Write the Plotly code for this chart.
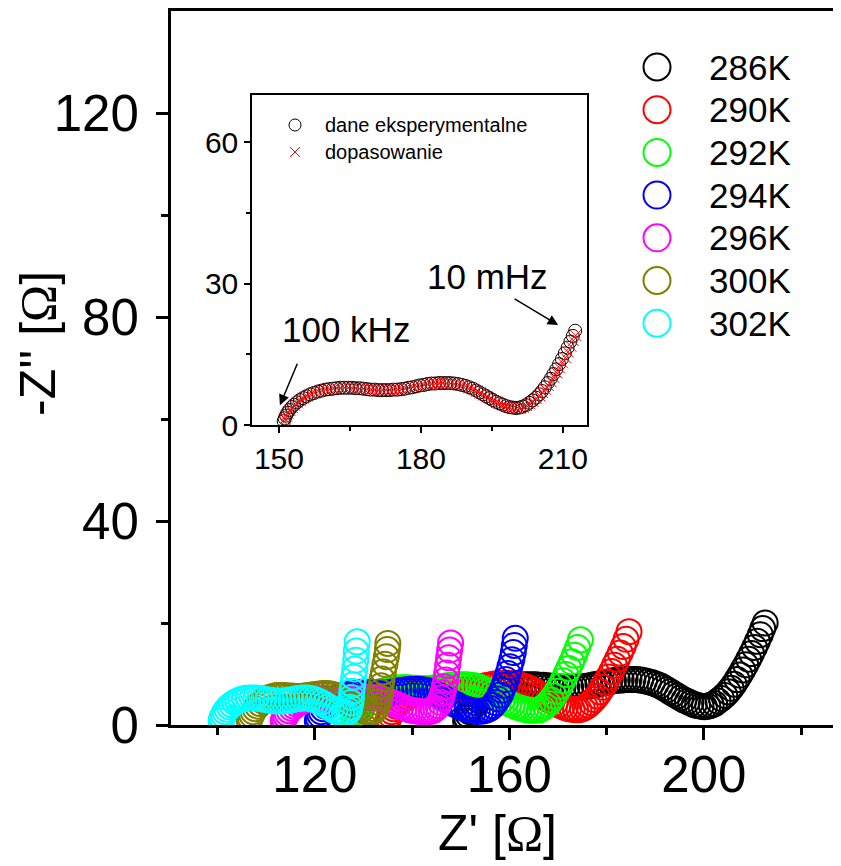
import plotly.graph_objects as go

# reference-pixel geometry (page body margin of 8 px is compensated)
OFF = 8
W, H = 841 - OFF, 866 - OFF
PL, PR, PT, PB = 171, 841, 11, 725          # plot area in reference pixels
L, R, T, B = PL - OFF, 0, PT - OFF, 866 - PB
PW, PH = PR - PL, PB - PT

def px_x(p):
    return (p - PL) / PW

def px_y(p):
    return (PB - p) / PH

FONT = "Liberation Sans, Arial, sans-serif"

temps = ["286K", "290K", "292K", "294K", "296K", "300K", "302K"]
colors = ["#000000", "#FF0000", "#00FF00", "#0000FF", "#FF00FF", "#808000", "#00FFFF"]

# ---- main data: (Z', -Z'') points per temperature ----
pts_286 = [(151.0, 0.8), (151.2, 1.4), (151.5, 2.0), (151.8, 2.6), (152.2, 3.2), (152.7, 3.8), (153.2, 4.3),
           (153.8, 4.8), (154.4, 5.3), (155.1, 5.7), (155.8, 6.1), (156.6, 6.5), (157.4, 6.8), (158.2, 7.1),
           (159.0, 7.3), (159.8, 7.5), (160.6, 7.6), (161.4, 7.7), (162.2, 7.8), (163.0, 7.9), (163.8, 7.9),
           (164.6, 7.9), (165.4, 7.9), (166.2, 7.8), (167.0, 7.8), (167.8, 7.7), (168.6, 7.6), (169.4, 7.5),
           (170.2, 7.5), (171.0, 7.4), (171.8, 7.4), (172.6, 7.4), (173.4, 7.4), (174.2, 7.5), (175.0, 7.5),
           (175.8, 7.6), (176.6, 7.7), (177.4, 7.9), (178.2, 8.0), (179.0, 8.2), (179.8, 8.4), (180.6, 8.5),
           (181.4, 8.7), (182.2, 8.8), (183.0, 8.8), (183.8, 8.9), (184.6, 8.9), (185.4, 8.9), (186.2, 8.9),
           (187.0, 8.8), (187.8, 8.7), (188.6, 8.5), (189.4, 8.3), (190.2, 8.0), (191.0, 7.7), (191.7, 7.3),
           (192.4, 6.9), (193.1, 6.5), (193.8, 6.1), (194.5, 5.7), (195.2, 5.3), (195.9, 4.9), (196.6, 4.6),
           (197.3, 4.3), (198.0, 4.0), (198.7, 3.8), (199.4, 3.7), (200.1, 3.6), (200.8, 3.7), (201.5, 3.9),
           (202.2, 4.2), (202.9, 4.7), (203.6, 5.2), (204.3, 5.8), (205.0, 6.5), (205.6, 7.2), (206.2, 8.0),
           (206.8, 8.9), (207.4, 9.8), (208.0, 10.8), (208.6, 11.8), (209.2, 12.9), (209.8, 14.0), (210.4, 15.2),
           (211.0, 16.4), (211.6, 17.7), (212.1, 18.9), (212.6, 20.0)]

pts_290 = [(135.0, 0.8), (135.2, 1.4), (135.5, 2.0), (135.8, 2.6), (136.2, 3.2), (136.7, 3.7), (137.2, 4.2),
           (137.8, 4.7), (138.4, 5.1), (139.1, 5.5), (139.8, 5.9), (140.6, 6.2), (141.4, 6.5), (142.2, 6.7),
           (143.0, 6.9), (143.8, 7.0), (144.6, 7.0), (145.4, 7.0), (146.2, 7.0), (147.0, 6.9), (147.8, 6.9),
           (148.6, 6.8), (149.4, 6.8), (150.2, 6.8), (151.0, 6.9), (151.8, 7.0), (152.6, 7.1), (153.4, 7.3),
           (154.2, 7.5), (155.0, 7.7), (155.8, 7.8), (156.6, 8.0), (157.4, 8.1), (158.2, 8.2), (159.0, 8.2),
           (159.8, 8.2), (160.6, 8.1), (161.4, 8.0), (162.2, 7.8), (163.0, 7.6), (163.8, 7.3), (164.5, 7.0),
           (165.2, 6.6), (165.9, 6.2), (166.6, 5.8), (167.3, 5.4), (168.0, 5.0), (168.7, 4.7), (169.4, 4.3),
           (170.1, 4.0), (170.8, 3.7), (171.5, 3.4), (172.2, 3.2), (172.9, 3.1), (173.6, 3.0), (174.3, 3.0),
           (175.0, 3.2), (175.6, 3.5), (176.2, 3.9), (176.8, 4.4), (177.4, 5.0), (178.0, 5.7), (178.6, 6.5),
           (179.2, 7.4), (179.8, 8.4), (180.4, 9.4), (181.0, 10.5), (181.6, 11.7), (182.2, 12.9), (182.8, 14.1),
           (183.4, 15.4), (184.0, 16.8), (184.6, 18.3)]

pts_292 = [(128.0, 0.8), (128.2, 1.4), (128.5, 2.0), (128.8, 2.6), (129.2, 3.2), (129.7, 3.8), (130.2, 4.3),
           (130.8, 4.8), (131.4, 5.3), (132.1, 5.7), (132.8, 6.1), (133.6, 6.4), (134.4, 6.7), (135.2, 6.9),
           (136.0, 7.1), (136.8, 7.2), (137.6, 7.3), (138.4, 7.3), (139.2, 7.3), (140.0, 7.2), (140.8, 7.2),
           (141.6, 7.1), (142.4, 7.1), (143.2, 7.1), (144.0, 7.2), (144.8, 7.3), (145.6, 7.4), (146.4, 7.6),
           (147.2, 7.7), (148.0, 7.8), (148.8, 7.9), (149.6, 7.9), (150.4, 7.9), (151.2, 7.9), (152.0, 7.8),
           (152.8, 7.7), (153.6, 7.5), (154.3, 7.2), (155.0, 6.9), (155.7, 6.5), (156.4, 6.1), (157.1, 5.7),
           (157.8, 5.3), (158.5, 4.9), (159.2, 4.5), (159.9, 4.2), (160.6, 3.9), (161.3, 3.6), (162.0, 3.4),
           (162.7, 3.2), (163.4, 3.0), (164.1, 2.9), (164.8, 2.9), (165.5, 2.9), (166.2, 3.0), (166.8, 3.3),
           (167.4, 3.7), (168.0, 4.2), (168.6, 4.9), (169.2, 5.7), (169.8, 6.6), (170.4, 7.6), (171.0, 8.7),
           (171.6, 9.9), (172.2, 11.1), (172.8, 12.4), (173.4, 13.7), (174.0, 15.2), (174.6, 16.7)]

pts_294 = [(120.5, 0.8), (120.7, 1.4), (121.0, 2.0), (121.3, 2.6), (121.7, 3.2), (122.2, 3.7), (122.7, 4.2),
           (123.3, 4.6), (123.9, 5.0), (124.6, 5.3), (125.3, 5.6), (126.1, 5.9), (126.9, 6.1), (127.7, 6.2),
           (128.5, 6.3), (129.3, 6.4), (130.1, 6.4), (130.9, 6.3), (131.7, 6.3), (132.5, 6.2), (133.3, 6.2),
           (134.1, 6.2), (134.9, 6.3), (135.7, 6.4), (136.5, 6.5), (137.3, 6.7), (138.1, 6.8), (138.9, 6.9),
           (139.7, 7.0), (140.5, 7.0), (141.3, 7.0), (142.1, 6.9), (142.9, 6.8), (143.6, 6.6), (144.3, 6.3),
           (145.0, 6.0), (145.7, 5.7), (146.4, 5.3), (147.1, 4.9), (147.8, 4.6), (148.5, 4.2), (149.2, 3.9),
           (149.9, 3.6), (150.6, 3.3), (151.3, 3.1), (152.0, 2.9), (152.7, 2.8), (153.4, 2.7), (154.1, 2.7),
           (154.8, 2.8), (155.4, 3.0), (156.0, 3.3), (156.6, 3.8), (157.1, 4.4), (157.6, 5.1), (158.1, 5.9),
           (158.5, 6.8), (158.9, 7.8), (159.3, 8.9), (159.7, 10.1), (160.1, 11.4), (160.5, 12.8), (160.8, 14.2),
           (161.0, 15.6), (161.2, 17.0)]

pts_296 = [(113.5, 0.8), (113.7, 1.3), (114.0, 1.8), (114.3, 2.3), (114.7, 2.8), (115.2, 3.3), (115.7, 3.7),
           (116.3, 4.1), (116.9, 4.4), (117.6, 4.7), (118.3, 4.9), (119.1, 5.0), (119.9, 5.1), (120.7, 5.1),
           (121.5, 5.1), (122.3, 5.0), (123.1, 4.9), (123.9, 4.9), (124.7, 4.8), (125.5, 4.8), (126.3, 4.9),
           (127.1, 5.0), (127.9, 5.1), (128.7, 5.2), (129.5, 5.3), (130.3, 5.4), (131.1, 5.4), (131.9, 5.4),
           (132.7, 5.3), (133.5, 5.2), (134.2, 5.0), (134.9, 4.8), (135.6, 4.5), (136.3, 4.2), (137.0, 3.9),
           (137.7, 3.6), (138.4, 3.4), (139.1, 3.1), (139.8, 2.9), (140.5, 2.8), (141.2, 2.7), (141.9, 2.6),
           (142.6, 2.6), (143.3, 2.6), (143.9, 2.7), (144.4, 2.9), (144.9, 3.3), (145.3, 3.8), (145.7, 4.5),
           (146.0, 5.3), (146.3, 6.3), (146.6, 7.5), (146.9, 8.8), (147.1, 10.2), (147.3, 11.7), (147.5, 13.2),
           (147.7, 14.7), (147.9, 16.1)]

pts_300 = [(106.5, 0.8), (106.7, 1.4), (107.0, 2.0), (107.3, 2.6), (107.7, 3.2), (108.2, 3.7), (108.7, 4.2),
           (109.3, 4.7), (109.9, 5.1), (110.6, 5.4), (111.3, 5.6), (112.1, 5.8), (112.9, 5.8), (113.7, 5.8),
           (114.5, 5.7), (115.3, 5.7), (116.1, 5.6), (116.9, 5.6), (117.7, 5.7), (118.5, 5.8), (119.3, 5.9),
           (120.1, 6.0), (120.9, 6.1), (121.7, 6.2), (122.5, 6.2), (123.3, 6.1), (124.0, 5.9), (124.7, 5.6),
           (125.4, 5.3), (126.1, 4.9), (126.8, 4.5), (127.5, 4.1), (128.2, 3.7), (128.9, 3.3), (129.6, 3.0),
           (130.3, 2.7), (131.0, 2.5), (131.6, 2.5), (132.1, 2.7), (132.5, 3.1), (132.8, 3.7), (133.0, 4.5),
           (133.2, 5.4), (133.4, 6.5), (133.6, 7.7), (133.8, 9.0), (134.1, 10.4), (134.4, 11.9), (134.7, 13.4),
           (134.9, 14.8), (135.0, 16.0)]

pts_302 = [(100.7, 0.8), (100.9, 1.4), (101.2, 2.0), (101.5, 2.6), (101.9, 3.1), (102.4, 3.6), (102.9, 4.0),
           (103.5, 4.4), (104.1, 4.7), (104.8, 5.0), (105.5, 5.2), (106.3, 5.3), (107.1, 5.3), (107.9, 5.3),
           (108.7, 5.2), (109.5, 5.1), (110.3, 4.9), (111.1, 4.8), (111.9, 4.7), (112.7, 4.7), (113.5, 4.7),
           (114.3, 4.8), (115.1, 4.9), (115.9, 5.1), (116.7, 5.2), (117.5, 5.3), (118.3, 5.3), (119.1, 5.2),
           (119.9, 5.0), (120.6, 4.7), (121.3, 4.4), (122.0, 4.0), (122.7, 3.6), (123.4, 3.2), (124.1, 2.8),
           (124.8, 2.5), (125.5, 2.2), (126.1, 2.1), (126.6, 2.3), (127.0, 2.8), (127.2, 3.5), (127.4, 4.4),
           (127.5, 5.4), (127.6, 6.6), (127.8, 7.9), (128.0, 9.4), (128.2, 11.0), (128.4, 12.7), (128.5, 14.5),
           (128.7, 16.3)]

series_pts = [pts_286, pts_290, pts_292, pts_294, pts_296, pts_300, pts_302]

# ---- inset: 286K experimental data (same points) and fitted curve ----
inset_exp = pts_286
inset_fit = [(151.1, 0.7), (151.3, 1.3), (151.6, 1.9), (151.9, 2.5), (152.3, 3.1), (152.8, 3.7), (153.3, 4.2),
             (153.9, 4.7), (154.5, 5.2), (155.2, 5.7), (155.9, 6.1), (156.7, 6.5), (157.5, 6.8), (158.3, 7.1),
             (159.1, 7.3), (159.9, 7.5), (160.7, 7.6), (161.5, 7.7), (162.3, 7.8), (163.1, 7.8), (163.9, 7.9),
             (164.7, 7.9), (165.5, 7.8), (166.3, 7.8), (167.1, 7.7), (167.9, 7.7), (168.7, 7.6), (169.5, 7.5),
             (170.3, 7.5), (171.1, 7.4), (171.9, 7.4), (172.7, 7.4), (173.5, 7.4), (174.3, 7.5), (175.1, 7.5),
             (175.9, 7.6), (176.7, 7.7), (177.5, 7.8), (178.3, 8.0), (179.1, 8.2), (179.9, 8.3), (180.7, 8.5),
             (181.5, 8.6), (182.3, 8.7), (183.1, 8.8), (183.9, 8.8), (184.7, 8.9), (185.5, 8.8), (186.3, 8.8),
             (187.1, 8.7), (187.9, 8.6), (188.7, 8.4), (189.5, 8.2), (190.3, 7.9), (191.1, 7.6), (191.8, 7.2),
             (192.5, 6.8), (193.2, 6.4), (193.9, 6.0), (194.6, 5.6), (195.3, 5.2), (196.0, 4.8), (196.7, 4.5),
             (197.4, 4.2), (198.1, 3.9), (198.8, 3.7), (199.5, 3.6), (200.2, 3.5), (200.9, 3.6), (201.6, 3.8),
             (202.3, 4.1), (203.0, 4.5), (203.7, 5.0), (204.4, 5.6), (205.1, 6.2), (205.7, 6.9), (206.3, 7.6),
             (206.9, 8.4), (207.5, 9.2), (208.1, 10.1), (208.7, 11.1), (209.3, 12.1), (209.9, 13.2), (210.5, 14.3),
             (211.1, 15.5), (211.7, 16.7), (212.2, 17.9), (212.7, 19.0)]
inset_legend = ["dane eksperymentalne", "dopasowanie"]

fig = go.Figure()

for name, col, pts in zip(temps, colors, series_pts):
    fig.add_trace(go.Scatter(
        x=[p[0] for p in pts], y=[p[1] for p in pts], mode="markers", name=name,
        marker=dict(symbol="circle-open", size=25, color=col, line=dict(width=2, color=col)),
        xaxis="x", yaxis="y", showlegend=False))

fig.add_trace(go.Scatter(
    x=[p[0] for p in inset_exp], y=[p[1] for p in inset_exp], mode="markers", name=inset_legend[0],
    marker=dict(symbol="circle-open", size=13, color="#000000", line=dict(width=1, color="#000000")),
    xaxis="x2", yaxis="y2", showlegend=False))
fig.add_trace(go.Scatter(
    x=[p[0] for p in inset_fit], y=[p[1] for p in inset_fit], mode="markers", name=inset_legend[1],
    marker=dict(symbol="x-thin-open", size=11, color="#FF0000", line=dict(width=1, color="#FF0000")),
    xaxis="x2", yaxis="y2", showlegend=False))

# ---- manual legends (overlay axes in reference-pixel units) ----
leg_x = 657
leg_y0, leg_dy = 67, 42.7
leg_ys = [leg_y0 + i * leg_dy for i in range(len(temps))]
fig.add_trace(go.Scatter(
    x=[leg_x] * len(temps), y=leg_ys, mode="markers",
    marker=dict(symbol="circle-open", size=27, color=colors, line=dict(width=2)),
    xaxis="x3", yaxis="y3", showlegend=False, hoverinfo="skip"))
fig.add_trace(go.Scatter(
    x=[295], y=[125], mode="markers",
    marker=dict(symbol="circle-open", size=12, color="#000000", line=dict(width=1)),
    xaxis="x3", yaxis="y3", showlegend=False, hoverinfo="skip"))
fig.add_trace(go.Scatter(
    x=[295], y=[152], mode="markers",
    marker=dict(symbol="x-thin-open", size=10, color="#FF0000", line=dict(width=1, color="#FF0000")),
    xaxis="x3", yaxis="y3", showlegend=False, hoverinfo="skip"))

annotations = []
for t, yy in zip(temps, leg_ys):
    annotations.append(dict(xref="paper", yref="paper", x=px_x(707), y=px_y(yy), text=t,
                            showarrow=False, xanchor="left", yanchor="middle",
                            font=dict(family=FONT, size=35, color="black")))
for lbl, yy in zip(inset_legend, [125, 152]):
    annotations.append(dict(xref="paper", yref="paper", x=px_x(323), y=px_y(yy), text=lbl,
                            showarrow=False, xanchor="left", yanchor="middle",
                            font=dict(family=FONT, size=20, color="black")))

# axis titles
omega = "<span style='font-family:Liberation Serif'>Ω</span>"
annotations.append(dict(xref="paper", yref="paper", x=px_x(38), y=px_y(344), text="-Z'' [" + omega + "]",
                        textangle=-90, showarrow=False, xanchor="center", yanchor="middle",
                        font=dict(family=FONT, size=50, color="black")))
annotations.append(dict(xref="paper", yref="paper", x=px_x(497), y=px_y(833), text="Z' [" + omega + "]",
                        showarrow=False, xanchor="center", yanchor="middle",
                        font=dict(family=FONT, size=50, color="black")))

# inset frequency labels and arrows
annotations.append(dict(xref="paper", yref="paper", x=px_x(346), y=px_y(329), text="100 kHz",
                        showarrow=False, xanchor="center", yanchor="middle",
                        font=dict(family=FONT, size=35, color="black")))
annotations.append(dict(xref="paper", yref="paper", x=px_x(487), y=px_y(276), text="10 mHz",
                        showarrow=False, xanchor="center", yanchor="middle",
                        font=dict(family=FONT, size=35, color="black")))
annotations.append(dict(xref="x2", yref="y2", x=150.2, y=4.2, ax=18, ay=-43, text="",
                        showarrow=True, arrowhead=2, arrowsize=1.4, arrowwidth=1.5, arrowcolor="black"))
annotations.append(dict(xref="x2", yref="y2", x=209.0, y=21.2, ax=-45, ay=-27, text="",
                        showarrow=True, arrowhead=2, arrowsize=1.4, arrowwidth=1.5, arrowcolor="black"))

main_axis = dict(showline=True, linewidth=3, linecolor="black", ticks="outside", ticklen=12, tickwidth=2.5,
                 tickcolor="black", showgrid=False, zeroline=False,
                 tickfont=dict(family=FONT, size=51, color="black"))
inset_axis = dict(showline=True, linewidth=1.5, linecolor="black", mirror=True,
                  ticks="outside", ticklen=6, tickwidth=1.5, tickcolor="black",
                  showgrid=False, zeroline=False, tickfont=dict(family=FONT, size=30, color="black"))

fig.update_layout(
    width=W, height=H,
    margin=dict(l=L, r=R, t=T, b=B, pad=0),
    paper_bgcolor="white", plot_bgcolor="rgba(0,0,0,0)",
    showlegend=False,
    font=dict(family=FONT, color="black"),
    xaxis=dict(domain=[0, 1], range=[90.4, 228.2], tickvals=[120, 160, 200], mirror=True,
               ticklabelstandoff=-9,
               minor=dict(tickvals=[100, 140, 180, 220], ticks="outside", ticklen=7, tickwidth=2.5, tickcolor="black"),
               anchor="y", **main_axis),
    yaxis=dict(domain=[0, 1], range=[0, 140], tickvals=[0, 40, 80, 120], mirror=False,
               ticklabelstandoff=7,
               minor=dict(tickvals=[20, 60, 100], ticks="outside", ticklen=7, tickwidth=2.5, tickcolor="black"),
               anchor="x", **main_axis),
    xaxis2=dict(domain=[px_x(252), px_x(587)], range=[144.3, 215.1], tickvals=[150, 180, 210], anchor="y2",
                minor=dict(tickvals=[165, 195], ticks="outside", ticklen=4, tickwidth=1.5, tickcolor="black"),
                **inset_axis),
    yaxis2=dict(domain=[px_y(425), px_y(95)], range=[0, 70], tickvals=[0, 30, 60], anchor="x2",
                minor=dict(tickvals=[15, 45], ticks="outside", ticklen=4, tickwidth=1.5, tickcolor="black"),
                **inset_axis),
    xaxis3=dict(domain=[0, 1], range=[PL, PR], visible=False, anchor="y3", fixedrange=True),
    yaxis3=dict(domain=[0, 1], range=[PB, PT], visible=False, anchor="x3", fixedrange=True),
    annotations=annotations,
)

fig.write_html("out.html")
